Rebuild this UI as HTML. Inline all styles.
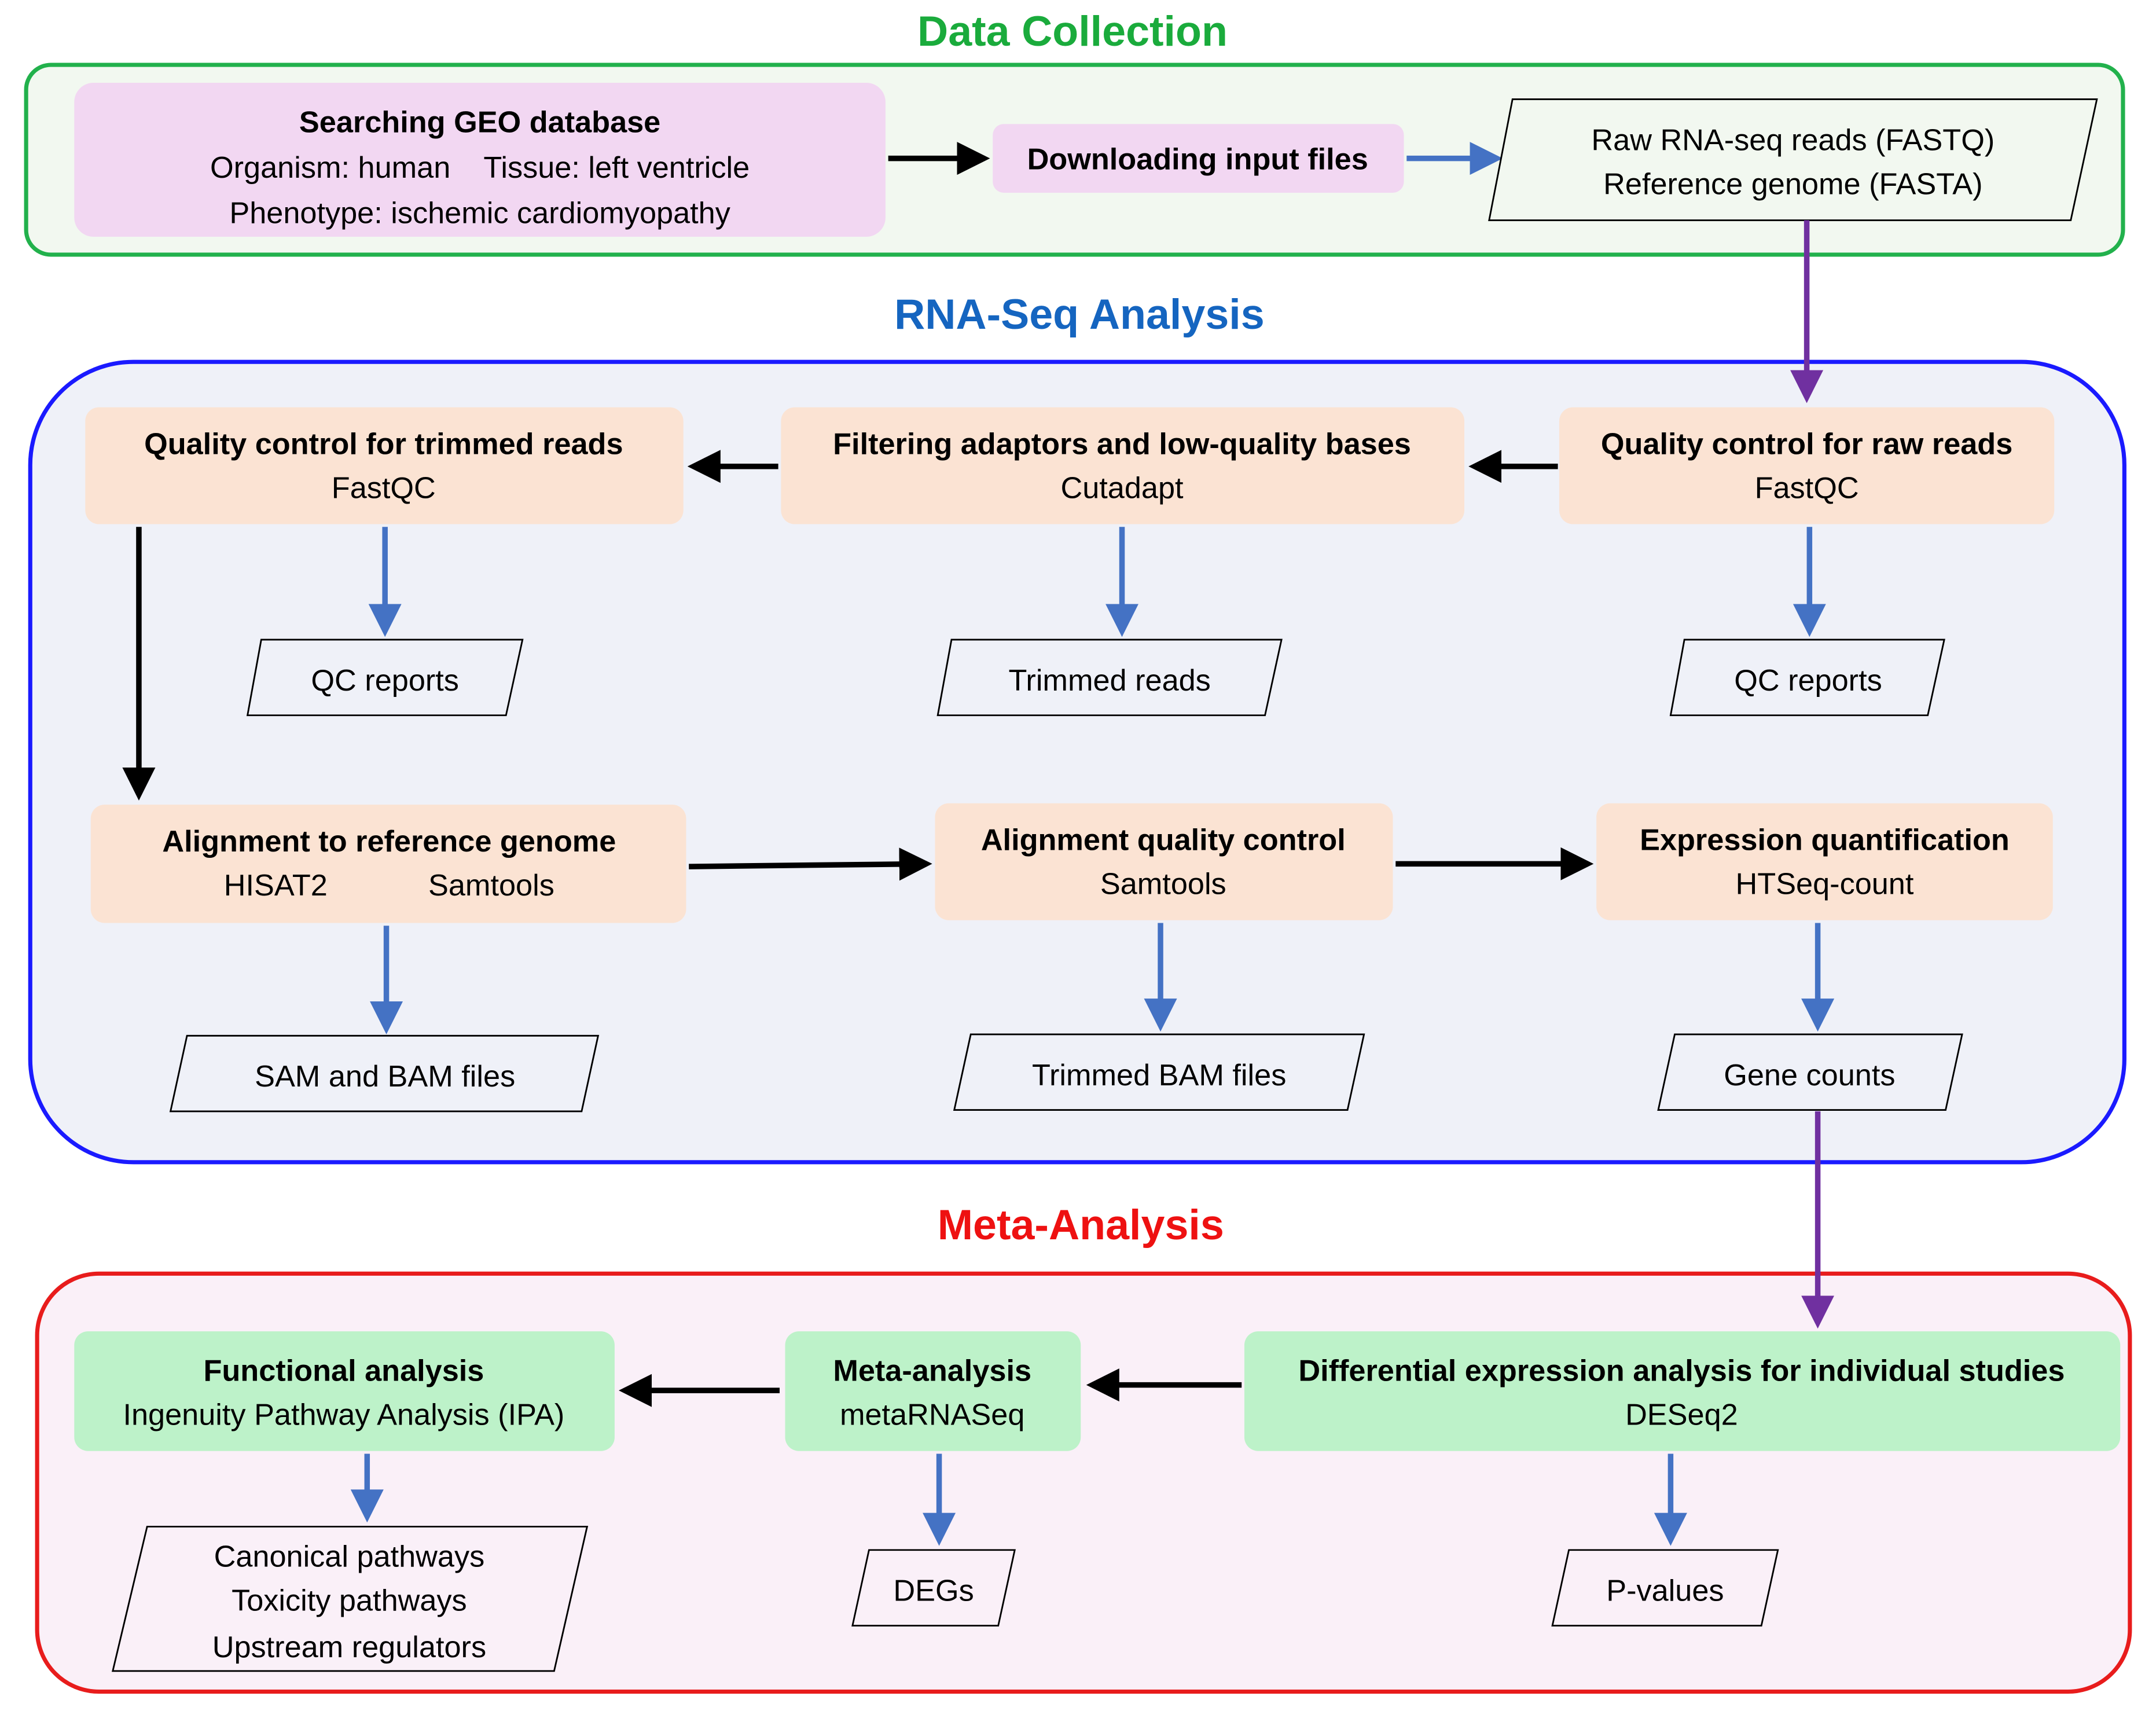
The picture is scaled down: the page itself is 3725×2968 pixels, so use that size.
<!DOCTYPE html>
<html><head><meta charset="utf-8"><style>html,body{margin:0;padding:0;background:#fff}svg{display:block}text{font-family:"Liberation Sans",sans-serif;white-space:pre}</style></head><body>
<svg width="3725" height="2968" viewBox="0 0 1568 1249" xmlns="http://www.w3.org/2000/svg" xml:space="preserve">
<defs>
<marker id="ab" markerWidth="6" markerHeight="6" refX="5" refY="3" orient="auto" markerUnits="strokeWidth"><path d="M0,0 L6,3 L0,6 Z" fill="#000"/></marker>
<marker id="au" markerWidth="6" markerHeight="6" refX="5" refY="3" orient="auto" markerUnits="strokeWidth"><path d="M0,0 L6,3 L0,6 Z" fill="#4472c4"/></marker>
<marker id="ap" markerWidth="6" markerHeight="6" refX="5" refY="3" orient="auto" markerUnits="strokeWidth"><path d="M0,0 L6,3 L0,6 Z" fill="#7030a0"/></marker>
</defs>
<g text-anchor="middle" font-size="22" fill="#000">
<text x="780" y="33" font-size="31" font-weight="bold" fill="#1aab3c">Data Collection</text>
<rect x="19" y="47" width="1525" height="138" rx="18" fill="#f2f8f0" stroke="#22b14c" stroke-width="3"/>
<rect x="54" y="60" width="590" height="112" rx="14" fill="#f2d7f2"/>
<text x="349" y="96" font-weight="bold">Searching GEO database</text>
<text x="349" y="129">Organism: human    Tissue: left ventricle</text>
<text x="349" y="162">Phenotype: ischemic cardiomyopathy</text>
<line x1="646" y1="115" x2="716" y2="115" stroke="#000" stroke-width="4" marker-end="url(#ab)"/>
<rect x="722" y="90" width="299" height="50" rx="8" fill="#f2d7f2"/>
<text x="871" y="123" font-weight="bold">Downloading input files</text>
<line x1="1023" y1="115" x2="1089" y2="115" stroke="#4472c4" stroke-width="4" marker-end="url(#au)"/>
<polygon points="1100,72 1525,72 1506,160 1083,160" fill="#f2f8f0" stroke="#000" stroke-width="1.2"/>
<text x="1304" y="109">Raw RNA-seq reads (FASTQ)</text>
<text x="1304" y="141">Reference genome (FASTA)</text>

<text x="785" y="239" font-size="31" font-weight="bold" fill="#1565c0">RNA-Seq Analysis</text>
<rect x="22" y="263" width="1523" height="582" rx="75" fill="#eff1f8" stroke="#1a1aff" stroke-width="3"/>
<line x1="1314" y1="160" x2="1314" y2="289" stroke="#7030a0" stroke-width="4" marker-end="url(#ap)"/>
<rect x="62" y="296" width="435" height="85" rx="10" fill="#fbe3d3"/>
<text x="279" y="330" font-weight="bold">Quality control for trimmed reads</text><text x="279" y="362">FastQC</text>
<rect x="568" y="296" width="497" height="85" rx="10" fill="#fbe3d3"/>
<text x="816" y="330" font-weight="bold">Filtering adaptors and low-quality bases</text><text x="816" y="362">Cutadapt</text>
<rect x="1134" y="296" width="360" height="85" rx="10" fill="#fbe3d3"/>
<text x="1314" y="330" font-weight="bold">Quality control for raw reads</text><text x="1314" y="362">FastQC</text>
<line x1="566" y1="339" x2="504" y2="339" stroke="#000" stroke-width="4" marker-end="url(#ab)"/>
<line x1="1133" y1="339" x2="1072" y2="339" stroke="#000" stroke-width="4" marker-end="url(#ab)"/>
<line x1="280" y1="383" x2="280" y2="459" stroke="#4472c4" stroke-width="4" marker-end="url(#au)"/>
<line x1="816" y1="383" x2="816" y2="459" stroke="#4472c4" stroke-width="4" marker-end="url(#au)"/>
<line x1="1316" y1="383" x2="1316" y2="459" stroke="#4472c4" stroke-width="4" marker-end="url(#au)"/>
<polygon points="190,465 380,465 368,520 180,520" fill="#eff1f8" stroke="#000" stroke-width="1.2"/>
<text x="280" y="502">QC reports</text>
<polygon points="692,465 932,465 920,520 682,520" fill="#eff1f8" stroke="#000" stroke-width="1.2"/>
<text x="807" y="502">Trimmed reads</text>
<polygon points="1225,465 1414,465 1402,520 1215,520" fill="#eff1f8" stroke="#000" stroke-width="1.2"/>
<text x="1315" y="502">QC reports</text>
<line x1="101" y1="383" x2="101" y2="578" stroke="#000" stroke-width="4" marker-end="url(#ab)"/>
<rect x="66" y="585" width="433" height="86" rx="10" fill="#fbe3d3"/>
<text x="283" y="619" font-weight="bold">Alignment to reference genome</text><text x="283" y="651">HISAT2            Samtools</text>
<rect x="680" y="584" width="333" height="85" rx="10" fill="#fbe3d3"/>
<text x="846" y="618" font-weight="bold">Alignment quality control</text><text x="846" y="650">Samtools</text>
<rect x="1161" y="584" width="332" height="85" rx="10" fill="#fbe3d3"/>
<text x="1327" y="618" font-weight="bold">Expression quantification</text><text x="1327" y="650">HTSeq-count</text>
<line x1="501" y1="630" x2="674" y2="628" stroke="#000" stroke-width="4" marker-end="url(#ab)"/>
<line x1="1015" y1="628" x2="1155" y2="628" stroke="#000" stroke-width="4" marker-end="url(#ab)"/>
<line x1="281" y1="673" x2="281" y2="748" stroke="#4472c4" stroke-width="4" marker-end="url(#au)"/>
<line x1="844" y1="671" x2="844" y2="746" stroke="#4472c4" stroke-width="4" marker-end="url(#au)"/>
<line x1="1322" y1="671" x2="1322" y2="746" stroke="#4472c4" stroke-width="4" marker-end="url(#au)"/>
<polygon points="136,753 435,753 423,808 124,808" fill="#eff1f8" stroke="#000" stroke-width="1.2"/>
<text x="280" y="790">SAM and BAM files</text>
<polygon points="706,752 992,752 980,807 694,807" fill="#eff1f8" stroke="#000" stroke-width="1.2"/>
<text x="843" y="789">Trimmed BAM files</text>
<polygon points="1218,752 1427,752 1415,807 1206,807" fill="#eff1f8" stroke="#000" stroke-width="1.2"/>
<text x="1316" y="789">Gene counts</text>

<text x="786" y="901" font-size="31" font-weight="bold" fill="#ee1111">Meta-Analysis</text>
<rect x="27" y="926" width="1522" height="304" rx="45" fill="#faf0f8" stroke="#e81c1c" stroke-width="3"/>
<line x1="1322" y1="808" x2="1322" y2="962" stroke="#7030a0" stroke-width="4" marker-end="url(#ap)"/>
<rect x="54" y="968" width="393" height="87" rx="10" fill="#bdf2c9"/>
<text x="250" y="1004" font-weight="bold">Functional analysis</text><text x="250" y="1036">Ingenuity Pathway Analysis (IPA)</text>
<rect x="571" y="968" width="215" height="87" rx="10" fill="#bdf2c9"/>
<text x="678" y="1004" font-weight="bold">Meta-analysis</text><text x="678" y="1036">metaRNASeq</text>
<rect x="905" y="968" width="637" height="87" rx="10" fill="#bdf2c9"/>
<text x="1223" y="1004" font-weight="bold">Differential expression analysis for individual studies</text><text x="1223" y="1036">DESeq2</text>
<line x1="903" y1="1007" x2="794" y2="1007" stroke="#000" stroke-width="4" marker-end="url(#ab)"/>
<line x1="567" y1="1011" x2="454" y2="1011" stroke="#000" stroke-width="4" marker-end="url(#ab)"/>
<line x1="267" y1="1057" x2="267" y2="1103" stroke="#4472c4" stroke-width="4" marker-end="url(#au)"/>
<line x1="683" y1="1057" x2="683" y2="1120" stroke="#4472c4" stroke-width="4" marker-end="url(#au)"/>
<line x1="1215" y1="1057" x2="1215" y2="1120" stroke="#4472c4" stroke-width="4" marker-end="url(#au)"/>
<polygon points="107,1110 427,1110 403,1215 82,1215" fill="#faf0f8" stroke="#000" stroke-width="1.2"/>
<text x="254" y="1139">Canonical pathways</text><text x="254" y="1171">Toxicity pathways</text><text x="254" y="1205">Upstream regulators</text>
<polygon points="632,1127 738,1127 726,1182 620,1182" fill="#faf0f8" stroke="#000" stroke-width="1.2"/>
<text x="679" y="1164">DEGs</text>
<polygon points="1141,1127 1293,1127 1281,1182 1129,1182" fill="#faf0f8" stroke="#000" stroke-width="1.2"/>
<text x="1211" y="1164">P-values</text>
</g>
</svg>
</body></html>
